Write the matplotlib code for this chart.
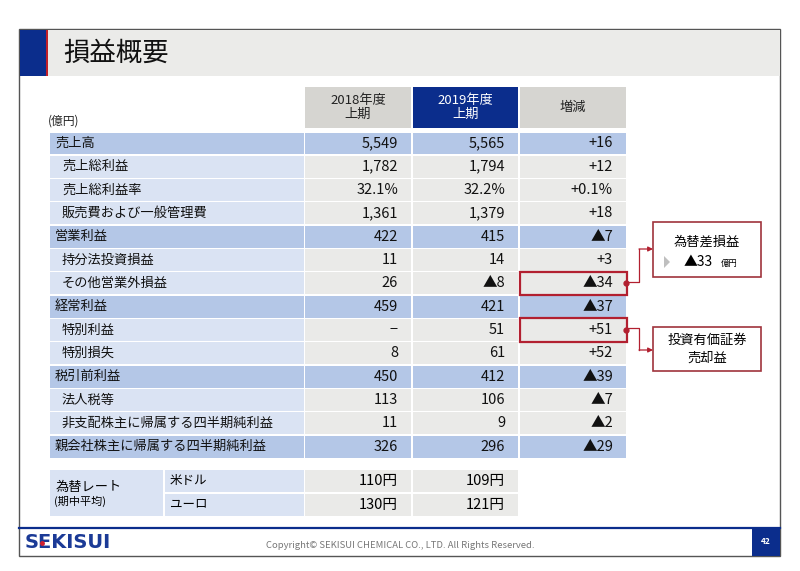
import matplotlib
matplotlib.use("Agg")
import matplotlib.pyplot as plt
from matplotlib.patches import Rectangle, Polygon

plt.rcParams['font.family'] = ['Noto Sans CJK JP', 'DejaVu Sans']

# 損益概要 (億円)
labels = ["売上高", "売上総利益", "売上総利益率", "販売費および一般管理費",
          "営業利益", "持分法投資損益", "その他営業外損益", "経常利益",
          "特別利益", "特別損失", "税引前利益", "法人税等",
          "非支配株主に帰属する四半期純利益", "親会社株主に帰属する四半期純利益"]
main_rows = [0, 4, 7, 10, 13]
pct_rows = [2]
fy2018 = [5549, 1782, 32.1, 1361, 422, 11, 26, 459, None, 8, 450, 113, 11, 326]
fy2019 = [5565, 1794, 32.2, 1379, 415, 14, -8, 421, 51, 61, 412, 106, 9, 296]
change = [16, 12, 0.1, 18, -7, 3, -34, -37, 51, 52, -39, -7, -2, -29]
headers = ["2018年度\n上期", "2019年度\n上期", "増減"]
boxed_rows = [6, 8]

fx_names = ["米ドル", "ユーロ"]
fx_2018 = [110, 130]
fx_2019 = [109, 121]

BLUE = "#0B2D8C"
HI = "#B4C7E7"
LIGHT = "#DAE3F3"
GRAY = "#EAEAE8"
HEAD = "#D6D5D1"
RED = "#B22030"


def fmt(v, pct=False, sign=False):
    if v is None:
        return "−"
    s = f"{abs(v):.1f}%" if pct else f"{abs(v):,}"
    if v < 0:
        return "▲" + s
    return ("+" + s) if sign else s


fig = plt.figure(figsize=(8, 5.71), dpi=100)
ax = fig.add_axes([0, 0, 1, 1])
ax.set_xlim(0, 800)
ax.set_ylim(571, 0)
ax.axis("off")


def box(x0, y0, x1, y1, fc, ec="none", lw=0, z=1):
    ax.add_patch(Rectangle((x0, y0), x1 - x0, y1 - y0, facecolor=fc,
                           edgecolor=ec, linewidth=lw, zorder=z))


# frame and title bar
box(19, 29, 780, 556, "white", "#555555", 1.0, z=0)
box(19.5, 29.5, 779.5, 76, "#EBEBE9")
box(19.5, 29.5, 46, 76, BLUE)
box(46, 29.5, 48, 76, "#C0202A")
ax.text(63, 53, "損益概要", fontsize=19, va="center", ha="left", color="#111111")

# columns
cols = [(305, 411), (413, 518), (520, 626)]
lab_x0, lab_x1 = 50, 304

# header
for i, (x0, x1) in enumerate(cols):
    fc = BLUE if i == 1 else HEAD
    box(x0, 87, x1, 128, fc)
    ax.text((x0 + x1) / 2, 107.5, headers[i], ha="center", va="center",
            fontsize=9.5, linespacing=1.1,
            color="white" if i == 1 else "#222222")
ax.text(48, 121, "(億円)", fontsize=8.5, va="center", ha="left", color="#222222")

top0 = 131.7
rh = 23.33
for r, lab in enumerate(labels):
    y0 = top0 + r * rh + 0.8
    y1 = top0 + (r + 1) * rh - 0.8
    yc = (y0 + y1) / 2
    is_main = r in main_rows
    box(lab_x0, y0, lab_x1, y1, HI if is_main else LIGHT)
    ax.text(55 if is_main else 62, yc, lab, fontsize=9.5, va="center",
            ha="left", color="#111111")
    pct = r in pct_rows
    vals = [fmt(fy2018[r], pct), fmt(fy2019[r], pct), fmt(change[r], pct, True)]
    for (x0, x1), v in zip(cols, vals):
        box(x0, y0, x1, y1, HI if is_main else GRAY)
        ax.text(x1 - 13, yc, v, fontsize=10.5, va="center", ha="right",
                color="#111111")

# red boxes and callouts
for r in boxed_rows:
    y0 = top0 + r * rh
    x0, x1 = cols[2]
    box(x0 - 0.5, y0, x1 + 0.5, y0 + rh, "none", RED, 1.6, z=3)
    ax.plot(x1, y0 + rh / 2, "o", color=RED, ms=3.5, zorder=4)

callouts = [
    (281.7, 249, (653, 222, 761, 277)),
    (328.3, 350, (653, 327, 761, 371)),
]
for ys, ye, (bx0, by0, bx1, by1) in callouts:
    ax.plot([626, 639, 639], [ys, ys, ye], color=RED, lw=0.9, zorder=3)
    ax.annotate("", xy=(bx0, ye), xytext=(639, ye),
                arrowprops=dict(arrowstyle="-|>", color=RED, lw=0.9,
                                mutation_scale=7, shrinkA=0, shrinkB=0))
    box(bx0, by0, bx1, by1, "white", "#A0343C", 1.2, z=2)

ax.text(707, 242, "為替差損益", fontsize=9.5, ha="center", va="center")
ax.add_patch(Polygon([(664, 256), (664, 268), (670, 262)], closed=True,
                     facecolor="#BFBFBF", edgecolor="none", zorder=3))
ax.text(684, 262, "▲33", fontsize=10, ha="left", va="center")
ax.text(721, 263, "億円", fontsize=6, ha="left", va="center")
ax.text(707, 340.5, "投資有価証券", fontsize=9.5, ha="center", va="center")
ax.text(707, 358, "売却益", fontsize=9.5, ha="center", va="center")

# exchange rate table
fx_top, fx_mid, fx_bot = 470, 493, 516
box(lab_x0, fx_top, 163, fx_bot, LIGHT)
ax.text(56, 487, "為替レート", fontsize=9.5, ha="left", va="center")
ax.text(54, 501, "(期中平均)", fontsize=8, ha="left", va="center")
for k, name in enumerate(fx_names):
    y0 = fx_top + k * (fx_mid - fx_top) + (0 if k == 0 else 0.8)
    y1 = fx_mid - 0.8 if k == 0 else fx_bot
    yc = (y0 + y1) / 2
    box(165, y0, lab_x1, y1, LIGHT)
    ax.text(170, yc - 1, name, fontsize=9, ha="left", va="center")
    for (x0, x1), v in zip(cols[:2], [fx_2018[k], fx_2019[k]]):
        box(x0, y0, x1, y1, GRAY)
        ax.text(x1 - 13, yc, f"{v}円", fontsize=10.5, ha="right", va="center")

# footer
ax.plot([19, 780], [528, 528], color=BLUE, lw=1.6, zorder=3)
box(752, 528, 780, 556, BLUE, z=3)
ax.text(766, 542, "42", fontsize=6, color="white", ha="center", va="center",
        fontweight="bold", zorder=4)
ax.text(400, 545, "Copyright© SEKISUI CHEMICAL CO., LTD. All Rights Reserved.",
        fontsize=6.8, color="#777777", ha="center", va="center")
ax.text(25, 543, "SEKISUI", fontsize=14, fontweight="bold", color="#1B3A96",
        ha="left", va="center", family=["Liberation Sans Narrow", "DejaVu Sans"])
ax.plot(41.5, 543, "o", color="#D02030", ms=2.5, zorder=5)

fig.savefig("out.png", dpi=100)
